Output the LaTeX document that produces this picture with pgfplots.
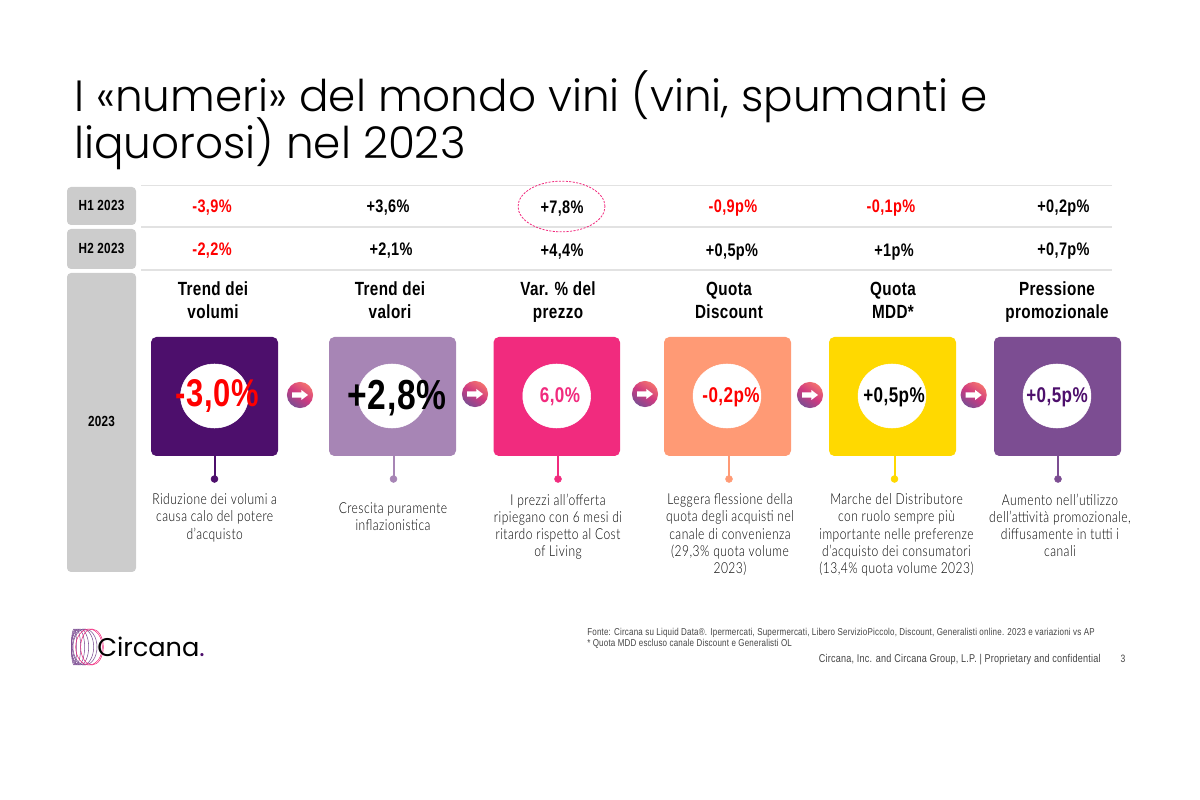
\documentclass[border=0pt]{standalone}
\usepackage{fontspec}
\usepackage{pgfplots}
\pgfplotsset{compat=1.18}
\setmainfont{Liberation Sans}
\newfontfamily\cond[FakeStretch=0.80,LetterSpace=2]{Liberation Sans}
\newfontfamily\desc[FakeStretch=0.80,LetterSpace=3]{Lato Light}
\newfontfamily\pop[UprightFont=* Light]{Poppins}
\newfontfamily\popr{Poppins}

\definecolor{cA}{HTML}{4D0F6C}
\definecolor{cB}{HTML}{A785B5}
\definecolor{cC}{HTML}{F12B7E}
\definecolor{cD}{HTML}{FF9A75}
\definecolor{cE}{HTML}{FFD900}
\definecolor{cF}{HTML}{7C4D92}
\definecolor{gTop}{HTML}{F4716F}
\definecolor{gMid}{HTML}{CF3A80}
\definecolor{boxgrey}{HTML}{CCCCCC}
\definecolor{rule}{HTML}{E2E2E2}
\definecolor{ink}{HTML}{111111}
\definecolor{foot}{HTML}{444444}

% arrow badge between the cards
\pgfdeclareplotmark{badge}{%
  \shade[draw=none,top color=gTop,bottom color=cF,middle color=gMid,shading angle=-35] (0,0) circle (9.8pt);
  \fill[white,draw=none] (-6pt,-2pt) -- (1pt,-2pt) -- (1pt,-3.8pt) -- (6pt,0pt) -- (1pt,3.8pt) -- (1pt,2pt) -- (-6pt,2pt) -- cycle;
}

\newcommand{\fs}[1]{\fontsize{#1}{#1}\selectfont}

\begin{document}
\begin{tikzpicture}
\begin{axis}[
  width=900pt, height=600pt, scale only axis,
  xmin=0, xmax=1200, ymin=0, ymax=800, y dir=reverse,
  hide axis, clip=false, set layers,
  every node/.style={text=ink,align=center},
]
% keeps the page at the full slide size
\path (axis cs:0,0) rectangle (axis cs:1200,800);
% grey row labels
\addplot[fill=boxgrey,draw=none,rounded corners=3pt] coordinates {(100,187)(136,187)(136,225)(67,225)(67,187)(100,187)};
\addplot[fill=boxgrey,draw=none,rounded corners=3pt] coordinates {(100,229)(136,229)(136,269)(67,269)(67,229)(100,229)};
\addplot[fill=boxgrey,draw=none,rounded corners=3pt] coordinates {(100,273)(136,273)(136,572)(67,572)(67,273)(100,273)};
% rules
\addplot[rule,line width=1pt] coordinates {(141,185.5)(1112,185.5)};
\addplot[rule,line width=1pt] coordinates {(141,227)(1112,227)};
\addplot[rule,line width=1pt] coordinates {(141,270)(1112,270)};
% cards
\addplot[fill=cA,draw=none,rounded corners=4pt] coordinates {(214,337)(278,337)(278,456)(151,456)(151,337)(214,337)};
\addplot[fill=cB,draw=none,rounded corners=4pt] coordinates {(392,337)(456,337)(456,456)(329,456)(329,337)(392,337)};
\addplot[fill=cC,draw=none,rounded corners=4pt] coordinates {(556,337)(620,337)(620,456)(493.5,456)(493.5,337)(556,337)};
\addplot[fill=cD,draw=none,rounded corners=4pt] coordinates {(727,337)(791,337)(791,456)(664,456)(664,337)(727,337)};
\addplot[fill=cE,draw=none,rounded corners=4pt] coordinates {(892,337)(956,337)(956,456)(829,456)(829,337)(892,337)};
\addplot[fill=cF,draw=none,rounded corners=4pt] coordinates {(1057,337)(1121,337)(1121,456)(994,456)(994,337)(1057,337)};
% stems with dots
\addplot[cA,line width=1.5pt,mark=none] coordinates {(214.5,456)(214.5,479)};
\addplot[cB,line width=1.5pt,mark=none] coordinates {(393.5,456)(393.5,479)};
\addplot[cC,line width=1.5pt,mark=none] coordinates {(558,456)(558,479)};
\addplot[cD,line width=1.5pt,mark=none] coordinates {(729,456)(729,479)};
\addplot[cE,line width=1.5pt,mark=none] coordinates {(894.5,456)(894.5,479)};
\addplot[cF,line width=1.5pt,mark=none] coordinates {(1058,456)(1058,479)};
\addplot[only marks,mark=*,mark size=2.6pt,cA] coordinates {(214.5,479)};
\addplot[only marks,mark=*,mark size=2.6pt,cB] coordinates {(393.5,479)};
\addplot[only marks,mark=*,mark size=2.6pt,cC] coordinates {(558,479)};
\addplot[only marks,mark=*,mark size=2.6pt,cD] coordinates {(729,479)};
\addplot[only marks,mark=*,mark size=2.6pt,cE] coordinates {(894.5,479)};
\addplot[only marks,mark=*,mark size=2.6pt,cF] coordinates {(1058,479)};
% white discs
\addplot[only marks,mark=*,mark size=24pt,white,mark options={xscale=1.06,draw=none,fill=white}] coordinates
  {(214.5,396)(392,396)(556.7,396)(727,396)(892,396)(1057,396)};
% arrows
\addplot[only marks,mark=badge,draw=none,mark options={draw=none}] coordinates
  {(300,395)(475,394)(645,394)(810,395)(973.7,395)};

\begin{pgfonlayer}{axis foreground}
% dashed ring
\draw[cC,dash pattern=on 1.6pt off 1pt,line width=0.6pt] (axis cs:561.5,206.5) ellipse [x radius=32.6pt,y radius=19pt];

% title
\node[anchor=base west,inner sep=0pt,font=\pop\fs{32.8}] at (axis cs:74,112) {I «numeri» del mondo vini (vini, spumanti e};
\node[anchor=base west,inner sep=0pt,font=\pop\fs{32.8}] at (axis cs:74,159) {liquorosi) nel 2023};

% row labels
\node[anchor=base,font=\cond\bfseries\fs{11}] at (axis cs:101.5,211) {H1 2023};
\node[anchor=base,font=\cond\bfseries\fs{11}] at (axis cs:101.5,254) {H2 2023};
\node[anchor=base,font=\cond\bfseries\fs{11}] at (axis cs:101.5,427) {2023};

% H1 row
\node[anchor=base,font=\cond\bfseries\fs{13.6},text=red] at (axis cs:212,212.7) {-3,9\%};
\node[anchor=base,font=\cond\bfseries\fs{13.6}] at (axis cs:388,212.7) {+3,6\%};
\node[anchor=base,font=\cond\bfseries\fs{13.6}] at (axis cs:562,213.5) {+7,8\%};
\node[anchor=base,font=\cond\bfseries\fs{13.6},text=red] at (axis cs:733,212.7) {-0,9p\%};
\node[anchor=base,font=\cond\bfseries\fs{13.6},text=red] at (axis cs:891,212.7) {-0,1p\%};
\node[anchor=base,font=\cond\bfseries\fs{13.6}] at (axis cs:1063.5,212.7) {+0,2p\%};
% H2 row
\node[anchor=base,font=\cond\bfseries\fs{13.6},text=red] at (axis cs:212,256) {-2,2\%};
\node[anchor=base,font=\cond\bfseries\fs{13.6}] at (axis cs:391,256) {+2,1\%};
\node[anchor=base,font=\cond\bfseries\fs{13.6}] at (axis cs:562,256.7) {+4,4\%};
\node[anchor=base,font=\cond\bfseries\fs{13.6}] at (axis cs:732,256.7) {+0,5p\%};
\node[anchor=base,font=\cond\bfseries\fs{13.6}] at (axis cs:894,256.7) {+1p\%};
\node[anchor=base,font=\cond\bfseries\fs{13.6}] at (axis cs:1063.5,256) {+0,7p\%};

% headings
\node[anchor=base,font=\cond\bfseries\fs{14.3}] at (axis cs:213,296) {Trend dei};
\node[anchor=base,font=\cond\bfseries\fs{14.3}] at (axis cs:213,319) {volumi};
\node[anchor=base,font=\cond\bfseries\fs{14.3}] at (axis cs:390,296) {Trend dei};
\node[anchor=base,font=\cond\bfseries\fs{14.3}] at (axis cs:390,319) {valori};
\node[anchor=base,font=\cond\bfseries\fs{14.3}] at (axis cs:558,296) {Var. \% del};
\node[anchor=base,font=\cond\bfseries\fs{14.3}] at (axis cs:558,319) {prezzo};
\node[anchor=base,font=\cond\bfseries\fs{14.3}] at (axis cs:729,296) {Quota};
\node[anchor=base,font=\cond\bfseries\fs{14.3}] at (axis cs:729,319) {Discount};
\node[anchor=base,font=\cond\bfseries\fs{14.3}] at (axis cs:893,296) {Quota};
\node[anchor=base,font=\cond\bfseries\fs{14.3}] at (axis cs:893,319) {MDD*};
\node[anchor=base,font=\cond\bfseries\fs{14.3}] at (axis cs:1057,296) {Pressione};
\node[anchor=base,font=\cond\bfseries\fs{14.3}] at (axis cs:1057,319) {promozionale};

% card values
\node[anchor=base,font=\cond\bfseries\fs{29},text=red] at (axis cs:217,407) {-3,0\%};
\node[anchor=base,font=\cond\bfseries\fs{31.5}] at (axis cs:397,410) {+2,8\%};
\node[anchor=base,font=\cond\bfseries\fs{16},text=cC] at (axis cs:560,403) {6,0\%};
\node[anchor=base,font=\cond\bfseries\fs{16},text=red] at (axis cs:731,403) {-0,2p\%};
\node[anchor=base,font=\cond\bfseries\fs{16}] at (axis cs:894,403) {+0,5p\%};
\node[anchor=base,font=\cond\bfseries\fs{16},text=cA] at (axis cs:1057,403) {+0,5p\%};

% descriptions
\node[font=\desc\fs{11.3},anchor=north,align=center] at (axis cs:214.7,489) {Riduzione dei volumi a\\[1.6pt]causa calo del potere\\[1.6pt]d’acquisto};
\node[font=\desc\fs{11.3},anchor=north,align=center] at (axis cs:393,498) {Crescita puramente\\[1.6pt]inflazionistica};
\node[font=\desc\fs{11.3},anchor=north,align=center] at (axis cs:558,489) {I prezzi all’offerta\\[1.6pt]ripiegano con 6 mesi di\\[1.6pt]ritardo rispetto al Cost\\[1.6pt]of Living};
\node[font=\desc\fs{11.3},anchor=north,align=center] at (axis cs:730,489) {Leggera flessione della\\[1.6pt]quota degli acquisti nel\\[1.6pt]canale di convenienza\\[1.6pt](29,3\% quota volume\\[1.6pt]2023)};
\node[font=\desc\fs{11.3},anchor=north,align=center] at (axis cs:896.5,489) {Marche del Distributore\\[1.6pt]con ruolo sempre più\\[1.6pt]importante nelle preferenze\\[1.6pt]d’acquisto dei consumatori\\[1.6pt](13,4\% quota volume 2023)};
\node[font=\desc\fs{11.3},anchor=north,align=center] at (axis cs:1060,489) {Aumento nell’utilizzo\\[1.6pt]dell’attività promozionale,\\[1.6pt]diffusamente in tutti i\\[1.6pt]canali};

% logo
\draw[cF,line width=0.4pt] (axis cs:74,647) ellipse [x radius=2pt,y radius=13.5pt];
\draw[cF,line width=0.4pt] (axis cs:76,647) ellipse [x radius=3.5pt,y radius=13.5pt];
\draw[cF,line width=0.4pt] (axis cs:78,647) ellipse [x radius=5pt,y radius=13.5pt];
\draw[cF,line width=0.4pt] (axis cs:80,647) ellipse [x radius=6.5pt,y radius=13.5pt];
\draw[cF,line width=0.4pt] (axis cs:83,647) ellipse [x radius=8pt,y radius=13.5pt];
\draw[cF,line width=0.4pt] (axis cs:85,647) ellipse [x radius=9pt,y radius=13.5pt];
\draw[cC,line width=0.4pt] (axis cs:89,647) ellipse [x radius=10pt,y radius=13.5pt];
\draw[cC,line width=0.4pt] (axis cs:92,647) ellipse [x radius=8.5pt,y radius=13.5pt];
\node[anchor=base west,inner sep=0pt,font=\popr\fs{19.2}] at (axis cs:97,657) {Circana\textcolor{cA}{.}};

% footer
\node[anchor=base west,inner sep=0pt,font=\cond\color{foot}\fs{7.5}] at (axis cs:587,635.7) {\textcolor{foot}{Fonte: Circana su Liquid Data®.  Ipermercati, Supermercati, Libero ServizioPiccolo, Discount, Generalisti online. 2023 e variazioni vs AP}};
\node[anchor=base west,inner sep=0pt,font=\cond\fs{7.5}] at (axis cs:587,647) {\textcolor{foot}{* Quota MDD escluso canale Discount e Generalisti OL}};
\node[anchor=base east,inner sep=0pt,font=\cond\fs{8.5}] at (axis cs:1101,662.7) {\textcolor{foot}{Circana, Inc. and Circana Group, L.P. |  Proprietary and confidential}};
\node[anchor=base,font=\cond\fs{8}] at (axis cs:1123,662.7) {\textcolor{foot}{3}};
\end{pgfonlayer}
\end{axis}
\end{tikzpicture}
\end{document}
